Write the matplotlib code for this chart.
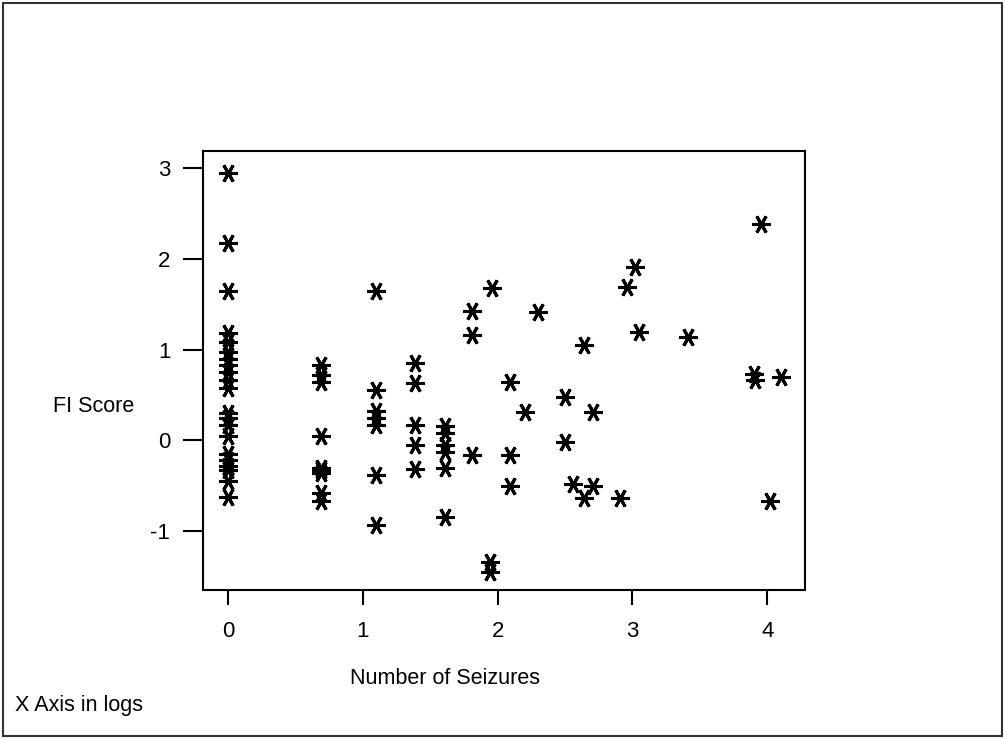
import matplotlib
matplotlib.use('Agg')
import matplotlib.pyplot as plt
from matplotlib.patches import Rectangle

plt.rcParams.update({
    "font.family": ["Liberation Sans", "DejaVu Sans"],
    "font.size": 15.5,
    "axes.unicode_minus": False,
})

# log(number of seizures) and FI score
x_none = [0.0] * 21
y_none = [2.95, 2.18, 1.65, 1.18, 1.08, 0.97, 0.9, 0.83, 0.75, 0.66, 0.58,
          0.3, 0.25, 0.17, 0.05, -0.15, -0.22, -0.28, -0.33, -0.45, -0.62]

x_two = [0.69] * 9
y_two = [0.83, 0.72, 0.64, 0.05, -0.3, -0.33, -0.36, -0.58, -0.67]

x_three = [1.1] * 7
y_three = [1.65, 0.55, 0.32, 0.25, 0.17, -0.38, -0.93]

x_four = [1.39] * 5
y_four = [0.85, 0.63, 0.17, -0.05, -0.32]

x_five = [1.61] * 6
y_five = [0.16, 0.08, -0.05, -0.13, -0.3, -0.85]

x_rest = [1.81, 1.81, 1.81, 1.96, 1.945, 1.945, 2.09, 2.09, 2.09, 2.2,
          2.3, 2.5, 2.5, 2.56, 2.64, 2.64, 2.71, 2.71, 2.91, 2.96,
          3.02, 3.05, 3.41, 3.9, 3.91, 3.95, 4.02, 4.1]
y_rest = [1.43, 1.16, -0.165, 1.68, -1.34, -1.45, 0.64, -0.165, -0.5, 0.31,
          1.41, 0.48, -0.02, -0.48, 1.05, -0.64, 0.31, -0.5, -0.64, 1.69,
          1.91, 1.19, 1.14, 0.73, 0.67, 2.38, -0.67, 0.7]

xs = x_none + x_two + x_three + x_four + x_five + x_rest
ys = y_none + y_two + y_three + y_four + y_five + y_rest

x_ticks = [0, 1, 2, 3, 4]
y_ticks = [-1, 0, 1, 2, 3]

fig = plt.figure(figsize=(10.05, 7.39), dpi=100)
ax = fig.add_axes([0.202, 0.2016, 0.599, 0.5941])

ax.plot(xs, ys, linestyle='none', marker=(6, 2, 90), markersize=13.5,
        markeredgewidth=2.2, color='black')

ax.set_xlim(-0.186, 4.28)
ax.set_ylim(-1.65, 3.19)
ax.set_xticks(x_ticks)
ax.set_yticks(y_ticks)
ax.tick_params(axis='y', direction='out', length=14.5, width=1.5, pad=9, labelsize=16)
ax.tick_params(axis='x', direction='out', length=11, width=1.5, pad=11, labelsize=16)
for spine in ax.spines.values():
    spine.set_linewidth(1.5)

fig.text(53 / 1005, 1 - 406 / 739, 'FI Score', ha='left', va='center')
fig.text(445 / 1005, 1 - 678 / 739, 'Number of Seizures', ha='center', va='center')
fig.text(15 / 1005, 1 - 706 / 739, 'X Axis in logs', ha='left', va='center')

fig.patches.append(Rectangle((0.003, 0.004), 0.994, 0.992, transform=fig.transFigure,
                             fill=False, edgecolor='#333333', linewidth=1.5))

fig.savefig('out.png', dpi=100)
